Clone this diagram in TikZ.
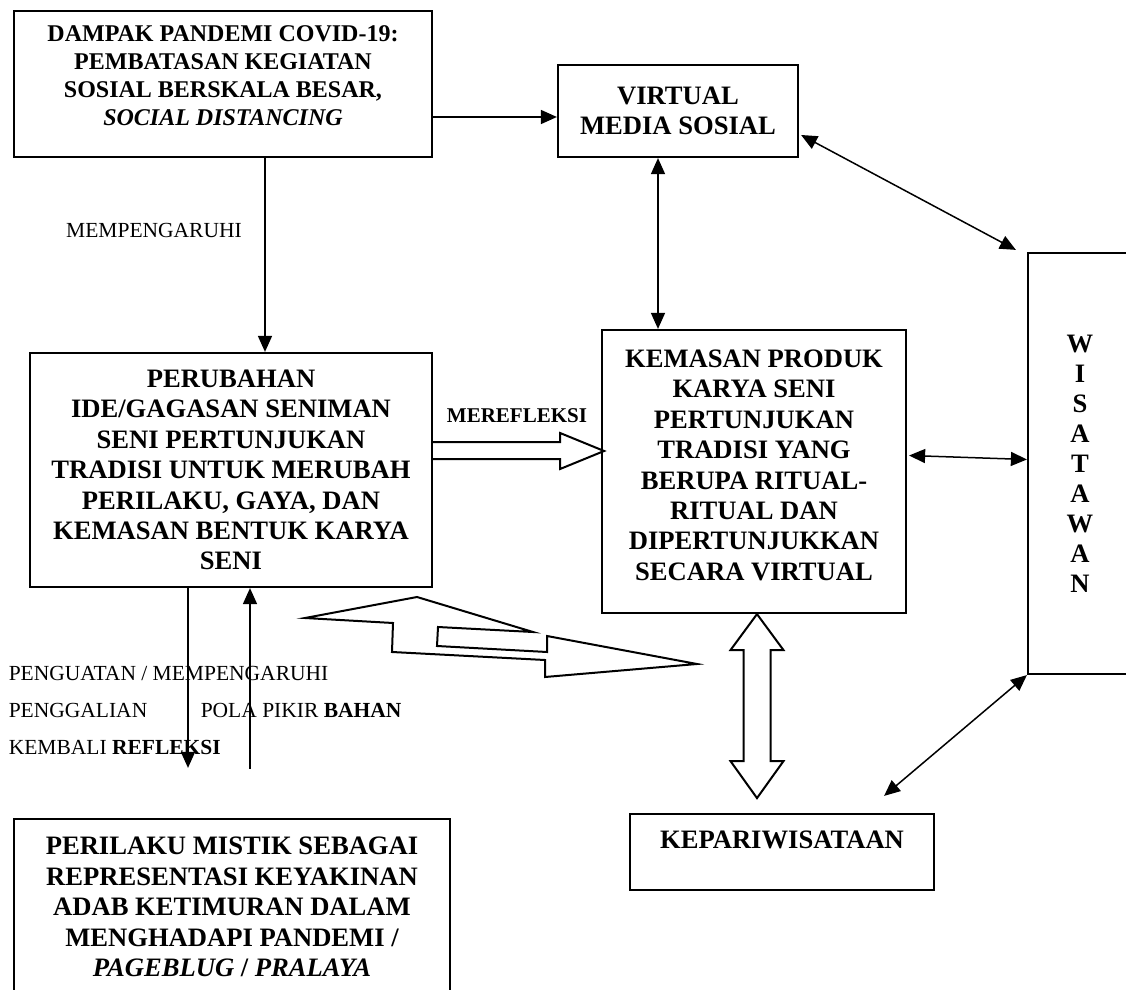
\documentclass[tikz,border=0pt]{standalone}
\usepackage{fontspec}
\setmainfont{Liberation Serif}
\usetikzlibrary{shapes, arrows.meta, calc, positioning}

\begin{document}
\begin{tikzpicture}[x=1pt, y=-1pt, line width=0.75pt,
        >={Triangle[length=8pt,width=7pt]},
        box/.style={draw, line width=1.1pt, inner sep=0pt, align=center,
            font=\fontsize{13.3}{15.2}\selectfont\bfseries},
        lbl/.style={inner sep=0pt, text height=7.1pt, text depth=0pt,
            font=\fontsize{10.75}{12}\selectfont},
        fat/.style={line width=1pt}]
    \useasboundingbox (0,0) rectangle (563,495);

    % kotak
    \node[box, font=\fontsize{12}{14}\selectfont\bfseries, minimum width=209pt, minimum height=73pt] (dampak) at (111.5,42)
        {DAMPAK PANDEMI COVID-19:\\ PEMBATASAN KEGIATAN\\ SOSIAL BERSKALA BESAR,\\ \textit{SOCIAL DISTANCING}\\[-5.5pt]\mbox{}};
    \node[box, minimum width=120pt, minimum height=46pt] (virt) at (339,55.5) {VIRTUAL\\ MEDIA SOSIAL};
    \node[box, minimum width=201pt, minimum height=117pt] (ubah) at (115.5,235)
        {PERUBAHAN\\ IDE/GAGASAN SENIMAN\\ SENI PERTUNJUKAN\\ TRADISI UNTUK MERUBAH\\ PERILAKU, GAYA, DAN\\ KEMASAN BENTUK KARYA\\ SENI};
    \node[box, minimum width=152pt, minimum height=141.5pt] (kemas) at (377,235.75)
        {KEMASAN PRODUK\\ KARYA SENI\\ PERTUNJUKAN\\ TRADISI YANG\\ BERUPA RITUAL-\\ RITUAL DAN\\ DIPERTUNJUKKAN\\ SECARA VIRTUAL\\[-8.7pt]\mbox{}};
    \node[box, font=\fontsize{13.3}{15}\selectfont\bfseries, minimum width=52pt, minimum height=210.5pt] (wisata) at (540,231.75)
        {W\\ I\\ S\\ A\\ T\\ A\\ W\\ A\\ N};
    \node[box, minimum width=152pt, minimum height=38pt] (pariwisata) at (391,426) {KEPARIWISATAAN\\[-3.2pt]\mbox{}};
    \node[box, minimum width=218pt, minimum height=88pt] (mistik) at (116,453.5)
        {PERILAKU MISTIK SEBAGAI\\ REPRESENTASI KEYAKINAN\\ ADAB KETIMURAN DALAM\\ MENGHADAPI PANDEMI /\\ \textit{PAGEBLUG} / \textit{PRALAYA}};

    % label
    \node[lbl] (pengaruh) at (77,115) {MEMPENGARUHI};
    \node[lbl, font=\fontsize{10.5}{12}\selectfont\bfseries] (merefleksi) at (258.5,207.5) {MEREFLEKSI};
    \node[lbl, anchor=west] (penguatan) at (4,336.5) {PENGUATAN / MEMPENGARUHI};
    \node[lbl, anchor=west] (penggalian) at (4,355) {PENGGALIAN};
    \node[lbl, anchor=west] (polapikir) at (100,355) {POLA PIKIR \textbf{BAHAN}};
    \node[lbl, anchor=west] (kembali) at (4,373.5) {KEMBALI \textbf{REFLEKSI}};

    % panah
    \draw [->] ($(dampak.east)+(0,16.5)$) -- ($(virt.west)+(0,3)$);
    \draw [->] ($(dampak.south)+(21,0)$) -- ($(ubah.north)+(17,0)$);
    \draw [<->] ($(virt.south)+(-10,0)$) -- ($(kemas.north)+(-48,0)$);
    \draw [<->] ($(virt.east)+(1,12)$) -- ($(wisata.north west)+(-5.5,-1)$);
    \draw [<->] ($(kemas.east)+(1,-8)$) -- ($(wisata.west)+(0,-2)$);
    \draw [<->] (wisata.south west) -- ($(pariwisata.north east)+(-25.5,-8.5)$);
    \draw [->] ($(ubah.south)+(-21.5,0)$) -- ($(mistik.north)+(-22,-25)$);
    \draw [->] ($(mistik.north)+(9,-24.5)$) -- ($(ubah.south)+(9.5,0)$);

    \draw [fat] ($(ubah.east)+(0,-14)$) -- ++(63.5,0) -- ++(0,-4.5) -- ++(22,9)
        -- ++(-22,9) -- ++(0,-5) -- ++(-63.5,0);
    \draw [fat] ($(kemas.south)+(1.5,0)$) -- ++(13.25,18) -- ++(-6.5,0) -- ++(0,55.5)
        -- ++(6.5,0) -- ++(-13.25,18.5) -- ++(-13.25,-18.5) -- ++(6.5,0) -- ++(0,-55.5)
        -- ++(-6.5,0) -- cycle;
    \draw [fat] (152.5,309) -- (208.5,298.5) -- (266.5,316) -- (219,313.5) -- (218.5,323)
        -- (273.5,326) -- (273.5,318) -- (348.5,332) -- (272.5,338.5) -- (272.5,330)
        -- (196,326) -- (196.5,311.5) -- cycle;
\end{tikzpicture}
\end{document}
